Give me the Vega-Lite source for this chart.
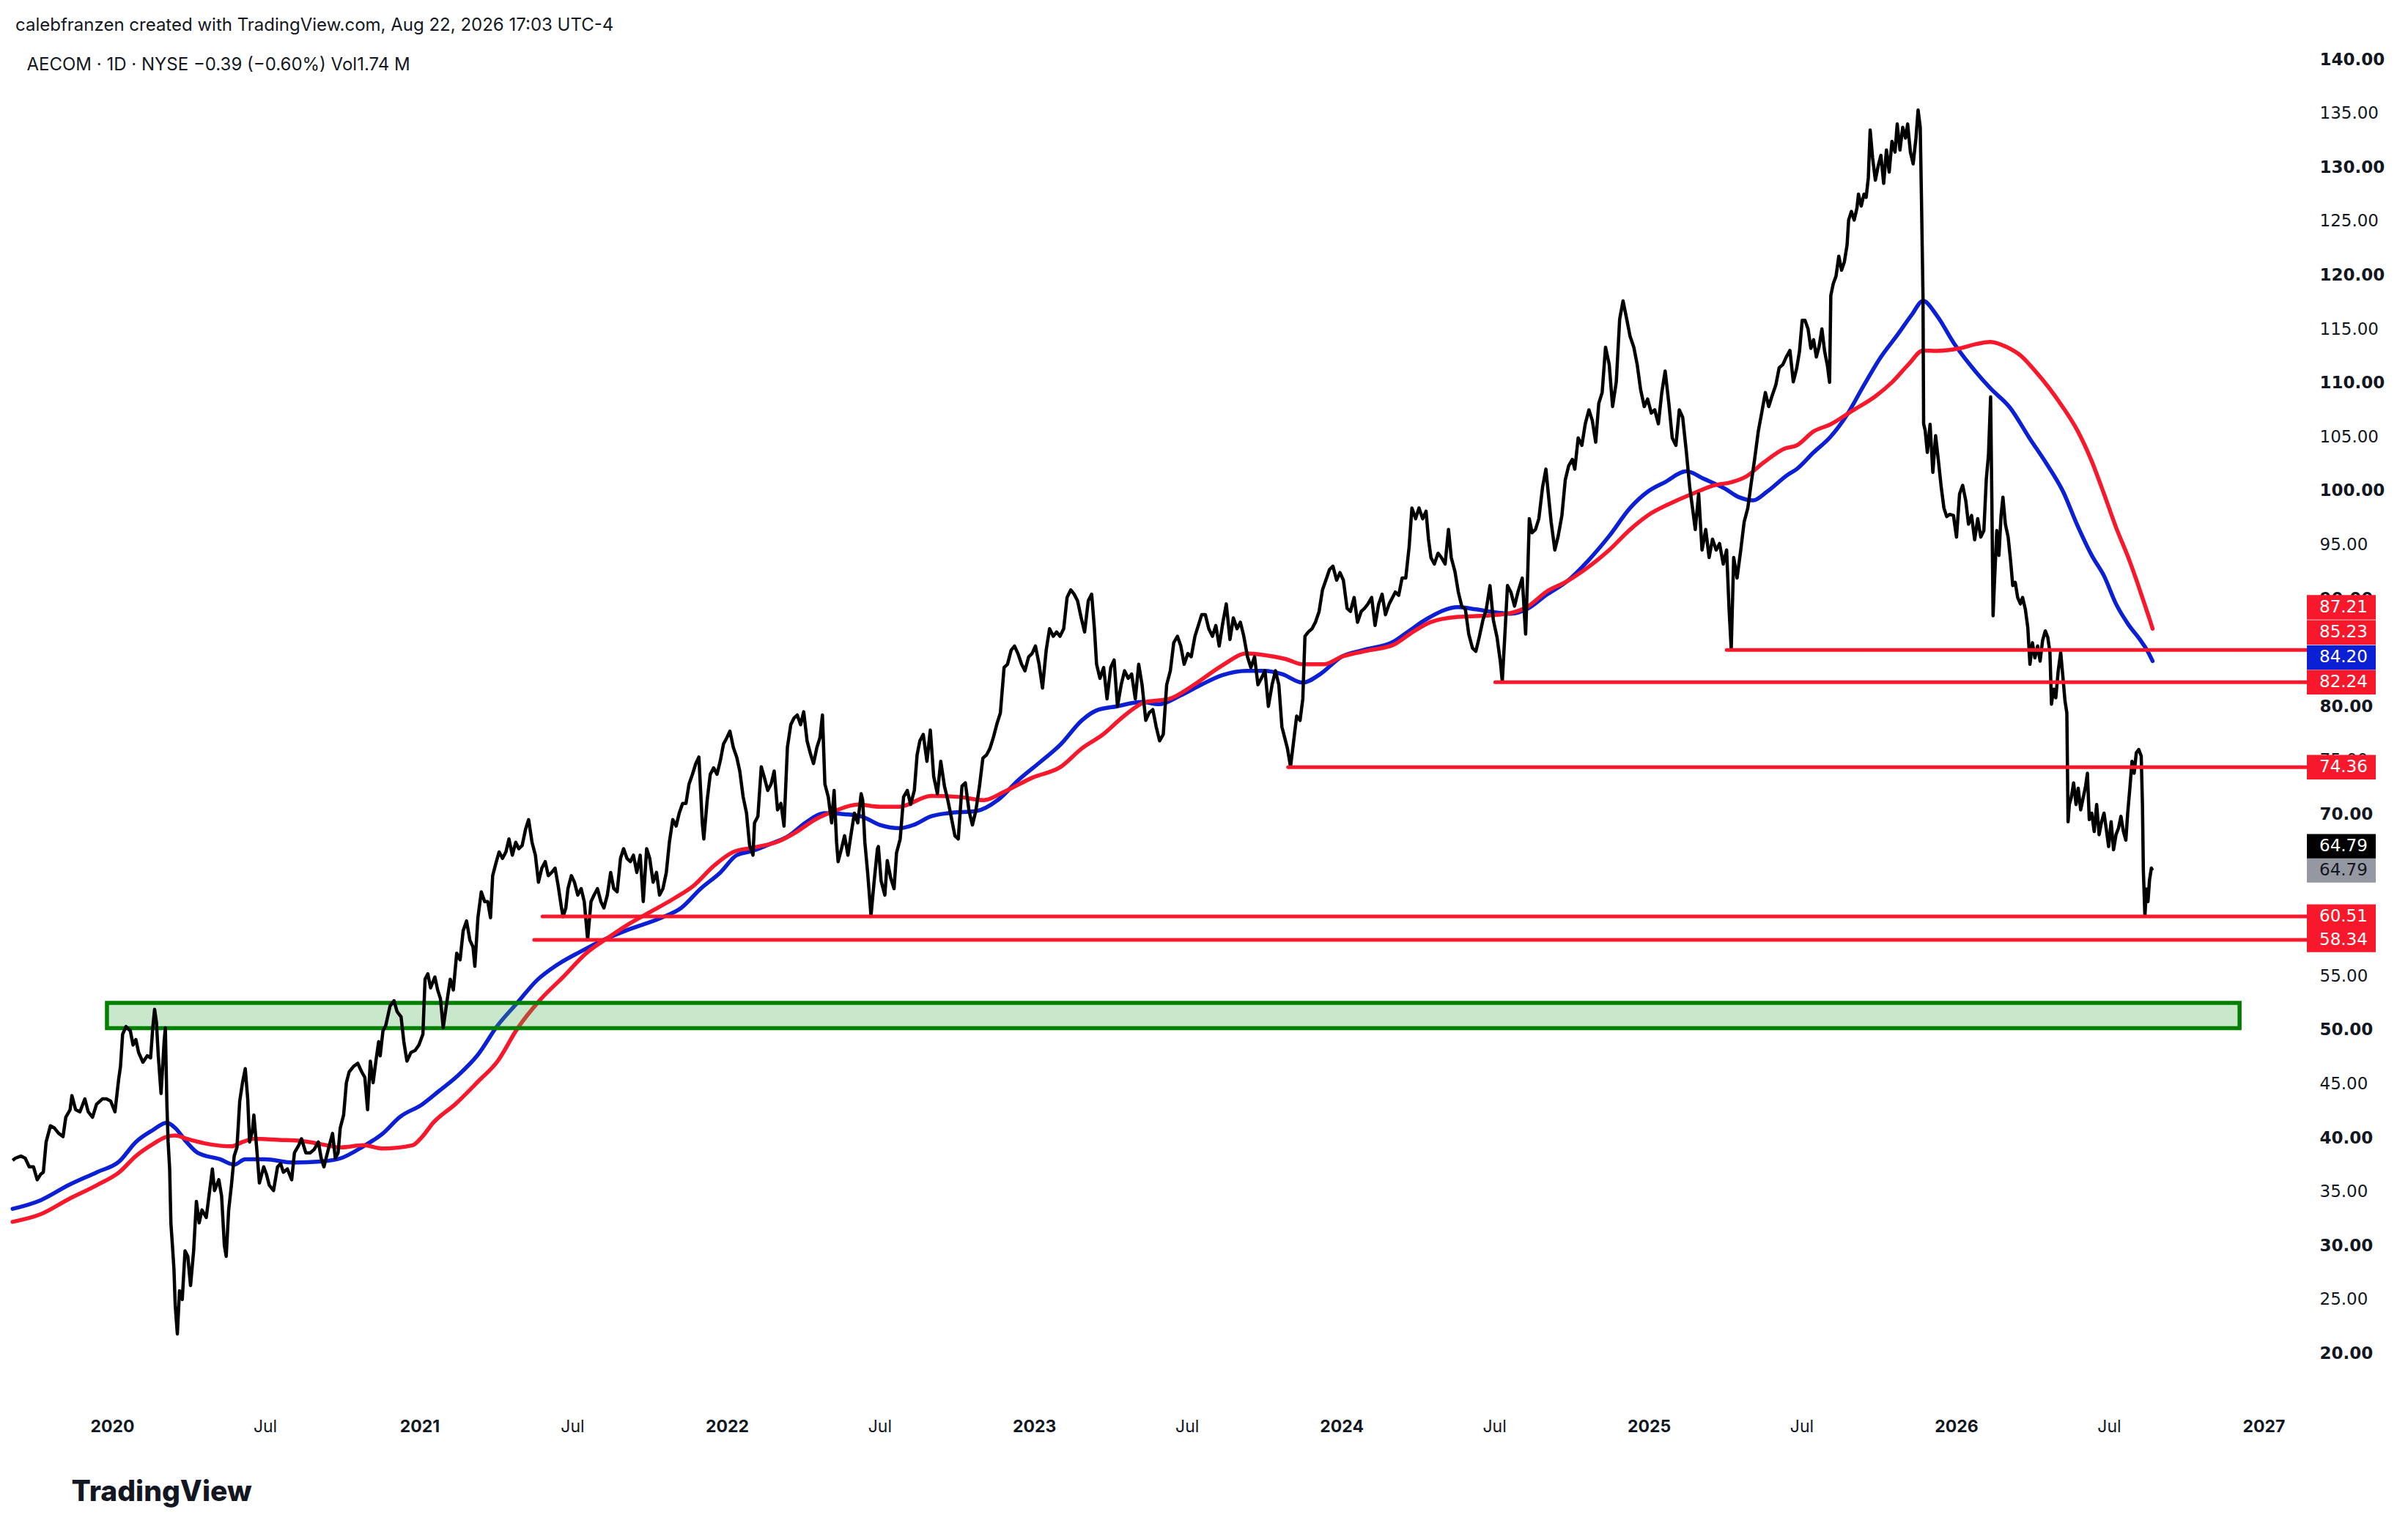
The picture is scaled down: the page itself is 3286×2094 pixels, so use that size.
{
"$schema": "https://vega.github.io/schema/vega-lite/v6.json",
"width": 3131,
"height": 1859,
"autosize": {"type": "none"},
"padding": {"left": 17, "top": 56, "right": 138, "bottom": 179},
"background": "white",
"config": {"view": {"stroke": null}},
"title": {"text": "calebfranzen created with TradingView.com, Aug 22, 2026 17:03 UTC-4", "anchor": "start", "frame": "group", "orient": "top", "offset": -10, "dx": 4, "baseline": "alphabetic", "font": "Inter", "fontSize": 24, "fontWeight": "normal", "color": "#131722"},
"datasets": {
"price": [
{"t":2019.676,"p":37.9},{"t":2019.685,"p":38.1},{"t":2019.703,"p":38.3},{"t":2019.717,"p":38.1},{"t":2019.730,"p":37.3},{"t":2019.744,"p":37.3},{"t":2019.756,"p":36.1},{"t":2019.767,"p":36.6},{"t":2019.776,"p":36.8},{"t":2019.785,"p":39.6},{"t":2019.799,"p":41.1},{"t":2019.812,"p":40.9},{"t":2019.826,"p":40.4},{"t":2019.840,"p":40.1},{"t":2019.849,"p":41.9},{"t":2019.863,"p":42.6},{"t":2019.869,"p":43.9},{"t":2019.881,"p":42.6},{"t":2019.895,"p":42.4},{"t":2019.911,"p":43.6},{"t":2019.922,"p":42.4},{"t":2019.936,"p":41.9},{"t":2019.949,"p":43.1},{"t":2019.968,"p":43.6},{"t":2019.981,"p":43.6},{"t":2019.995,"p":43.4},
{"t":2020.009,"p":42.4},{"t":2020.021,"p":45.4},{"t":2020.027,"p":46.6},{"t":2020.034,"p":49.6},{"t":2020.045,"p":50.3},{"t":2020.059,"p":49.9},{"t":2020.068,"p":48.6},{"t":2020.077,"p":49.1},{"t":2020.086,"p":47.9},{"t":2020.100,"p":47.0},{"t":2020.114,"p":47.6},{"t":2020.125,"p":47.4},{"t":2020.132,"p":50.2},{"t":2020.138,"p":51.9},{"t":2020.144,"p":50.7},{"t":2020.150,"p":47.6},{"t":2020.159,"p":44.1},{"t":2020.169,"p":48.9},{"t":2020.173,"p":50.2},{"t":2020.178,"p":43.1},{"t":2020.182,"p":39.6},{"t":2020.187,"p":37.1},{"t":2020.191,"p":32.1},{"t":2020.196,"p":30.0},{"t":2020.201,"p":27.8},{"t":2020.205,"p":24.5},{"t":2020.212,"p":21.8},{"t":2020.219,"p":25.8},{"t":2020.228,"p":25.0},{"t":2020.237,"p":29.5},{"t":2020.246,"p":29.0},{"t":2020.255,"p":26.3},{"t":2020.265,"p":29.5},{"t":2020.274,"p":34.1},{"t":2020.283,"p":32.1},{"t":2020.292,"p":33.3},{"t":2020.306,"p":32.6},{"t":2020.315,"p":34.6},{"t":2020.326,"p":37.1},{"t":2020.333,"p":35.1},{"t":2020.347,"p":36.1},{"t":2020.356,"p":34.6},{"t":2020.365,"p":30.0},{"t":2020.371,"p":29.0},{"t":2020.379,"p":33.3},{"t":2020.388,"p":35.6},{"t":2020.397,"p":38.3},{"t":2020.406,"p":39.1},{"t":2020.415,"p":43.4},{"t":2020.424,"p":45.1},{"t":2020.433,"p":46.4},{"t":2020.441,"p":43.6},{"t":2020.447,"p":39.6},{"t":2020.456,"p":40.6},{"t":2020.461,"p":42.1},{"t":2020.470,"p":39.1},{"t":2020.479,"p":35.8},{"t":2020.493,"p":37.3},{"t":2020.502,"p":36.6},{"t":2020.511,"p":35.6},{"t":2020.525,"p":35.1},{"t":2020.538,"p":37.3},{"t":2020.548,"p":37.6},{"t":2020.557,"p":36.8},{"t":2020.570,"p":37.1},{"t":2020.584,"p":36.1},{"t":2020.593,"p":38.6},{"t":2020.607,"p":39.3},{"t":2020.616,"p":39.9},{"t":2020.630,"p":38.6},{"t":2020.644,"p":38.6},{"t":2020.657,"p":38.9},{"t":2020.671,"p":39.6},{"t":2020.680,"p":38.1},{"t":2020.689,"p":37.3},{"t":2020.703,"p":38.9},{"t":2020.717,"p":40.4},{"t":2020.726,"p":38.1},{"t":2020.735,"p":38.6},{"t":2020.742,"p":40.9},{"t":2020.753,"p":42.1},{"t":2020.762,"p":45.1},{"t":2020.771,"p":46.1},{"t":2020.785,"p":46.6},{"t":2020.799,"p":46.9},{"t":2020.812,"p":46.1},{"t":2020.822,"p":45.6},{"t":2020.831,"p":42.6},{"t":2020.840,"p":47.1},{"t":2020.849,"p":45.1},{"t":2020.858,"p":47.1},{"t":2020.867,"p":48.9},{"t":2020.872,"p":47.6},{"t":2020.881,"p":49.9},{"t":2020.890,"p":50.4},{"t":2020.904,"p":52.2},{"t":2020.917,"p":52.7},{"t":2020.927,"p":51.7},{"t":2020.940,"p":51.2},{"t":2020.949,"p":48.9},{"t":2020.959,"p":47.1},{"t":2020.972,"p":47.9},{"t":2020.986,"p":48.1},{"t":2020.998,"p":48.6},
{"t":2021.011,"p":49.6},{"t":2021.018,"p":54.7},{"t":2021.027,"p":55.2},{"t":2021.036,"p":53.9},{"t":2021.050,"p":54.9},{"t":2021.059,"p":53.7},{"t":2021.068,"p":52.9},{"t":2021.077,"p":50.2},{"t":2021.087,"p":52.2},{"t":2021.100,"p":54.7},{"t":2021.110,"p":53.7},{"t":2021.121,"p":57.1},{"t":2021.132,"p":56.5},{"t":2021.142,"p":59.2},{"t":2021.153,"p":60.1},{"t":2021.164,"p":58.3},{"t":2021.174,"p":57.7},{"t":2021.180,"p":55.9},{"t":2021.190,"p":60.4},{"t":2021.201,"p":62.8},{"t":2021.212,"p":61.9},{"t":2021.222,"p":61.9},{"t":2021.231,"p":60.4},{"t":2021.238,"p":64.3},{"t":2021.249,"p":65.5},{"t":2021.259,"p":66.5},{"t":2021.270,"p":65.9},{"t":2021.281,"p":66.5},{"t":2021.291,"p":67.7},{"t":2021.302,"p":66.2},{"t":2021.313,"p":67.4},{"t":2021.323,"p":66.8},{"t":2021.334,"p":67.1},{"t":2021.345,"p":68.6},{"t":2021.355,"p":69.5},{"t":2021.366,"p":67.4},{"t":2021.377,"p":66.2},{"t":2021.387,"p":63.7},{"t":2021.398,"p":65.0},{"t":2021.409,"p":65.6},{"t":2021.419,"p":64.3},{"t":2021.430,"p":64.6},{"t":2021.441,"p":65.0},{"t":2021.451,"p":63.4},{"t":2021.462,"p":61.3},{"t":2021.467,"p":60.5},{"t":2021.476,"p":61.3},{"t":2021.483,"p":63.1},{"t":2021.494,"p":64.3},{"t":2021.504,"p":63.7},{"t":2021.515,"p":62.5},{"t":2021.526,"p":63.1},{"t":2021.536,"p":61.9},{"t":2021.547,"p":58.4},{"t":2021.558,"p":61.9},{"t":2021.568,"p":62.5},{"t":2021.579,"p":63.1},{"t":2021.590,"p":61.9},{"t":2021.600,"p":61.3},{"t":2021.611,"p":62.5},{"t":2021.622,"p":64.6},{"t":2021.632,"p":63.1},{"t":2021.643,"p":62.8},{"t":2021.654,"p":65.9},{"t":2021.664,"p":66.8},{"t":2021.675,"p":65.9},{"t":2021.686,"p":65.6},{"t":2021.696,"p":66.2},{"t":2021.707,"p":64.6},{"t":2021.718,"p":66.2},{"t":2021.728,"p":61.9},{"t":2021.739,"p":66.8},{"t":2021.749,"p":65.9},{"t":2021.760,"p":63.7},{"t":2021.771,"p":64.6},{"t":2021.781,"p":62.5},{"t":2021.792,"p":63.1},{"t":2021.803,"p":64.6},{"t":2021.813,"p":67.4},{"t":2021.824,"p":69.5},{"t":2021.835,"p":68.9},{"t":2021.845,"p":70.1},{"t":2021.856,"p":71.0},{"t":2021.867,"p":71.0},{"t":2021.877,"p":72.8},{"t":2021.888,"p":73.7},{"t":2021.899,"p":74.7},{"t":2021.909,"p":75.3},{"t":2021.920,"p":69.2},{"t":2021.925,"p":67.7},{"t":2021.936,"p":71.3},{"t":2021.946,"p":73.7},{"t":2021.957,"p":74.3},{"t":2021.968,"p":73.7},{"t":2021.979,"p":75.0},{"t":2021.989,"p":76.5},
{"t":2022.000,"p":77.1},{"t":2022.010,"p":77.7},{"t":2022.021,"p":76.2},{"t":2022.032,"p":75.3},{"t":2022.042,"p":74.0},{"t":2022.053,"p":71.6},{"t":2022.064,"p":70.1},{"t":2022.074,"p":67.1},{"t":2022.085,"p":66.2},{"t":2022.090,"p":69.2},{"t":2022.101,"p":69.8},{"t":2022.112,"p":74.4},{"t":2022.122,"p":73.4},{"t":2022.133,"p":72.2},{"t":2022.144,"p":72.8},{"t":2022.154,"p":74.0},{"t":2022.165,"p":70.4},{"t":2022.176,"p":71.0},{"t":2022.186,"p":68.9},{"t":2022.197,"p":76.2},{"t":2022.208,"p":78.3},{"t":2022.218,"p":78.9},{"t":2022.229,"p":79.2},{"t":2022.240,"p":78.3},{"t":2022.250,"p":79.5},{"t":2022.261,"p":76.8},{"t":2022.272,"p":75.6},{"t":2022.282,"p":74.7},{"t":2022.293,"p":76.2},{"t":2022.303,"p":77.1},{"t":2022.311,"p":79.2},{"t":2022.319,"p":72.8},{"t":2022.330,"p":71.6},{"t":2022.341,"p":69.2},{"t":2022.349,"p":72.2},{"t":2022.357,"p":67.4},{"t":2022.362,"p":65.6},{"t":2022.373,"p":66.8},{"t":2022.383,"p":68.0},{"t":2022.394,"p":66.2},{"t":2022.405,"p":68.3},{"t":2022.415,"p":70.1},{"t":2022.426,"p":69.2},{"t":2022.437,"p":71.9},{"t":2022.442,"p":71.3},{"t":2022.449,"p":67.4},{"t":2022.458,"p":64.6},{"t":2022.469,"p":60.6},{"t":2022.479,"p":63.7},{"t":2022.490,"p":66.8},{"t":2022.493,"p":67.0},{"t":2022.502,"p":63.8},{"t":2022.514,"p":62.5},{"t":2022.522,"p":65.7},{"t":2022.533,"p":64.1},{"t":2022.544,"p":63.1},{"t":2022.552,"p":66.4},{"t":2022.564,"p":67.7},{"t":2022.575,"p":71.6},{"t":2022.587,"p":72.2},{"t":2022.598,"p":70.9},{"t":2022.610,"p":72.2},{"t":2022.619,"p":75.5},{"t":2022.628,"p":76.8},{"t":2022.639,"p":77.4},{"t":2022.651,"p":74.9},{"t":2022.662,"p":77.8},{"t":2022.673,"p":73.5},{"t":2022.685,"p":71.9},{"t":2022.696,"p":74.9},{"t":2022.708,"p":72.6},{"t":2022.719,"p":71.3},{"t":2022.731,"p":69.6},{"t":2022.742,"p":68.0},{"t":2022.753,"p":67.7},{"t":2022.765,"p":72.6},{"t":2022.776,"p":72.9},{"t":2022.788,"p":70.3},{"t":2022.799,"p":69.0},{"t":2022.810,"p":70.3},{"t":2022.822,"p":72.6},{"t":2022.833,"p":75.2},{"t":2022.845,"p":75.5},{"t":2022.856,"p":76.1},{"t":2022.867,"p":77.1},{"t":2022.879,"p":78.4},{"t":2022.890,"p":79.4},{"t":2022.902,"p":83.6},{"t":2022.913,"p":83.9},{"t":2022.925,"p":85.2},{"t":2022.936,"p":85.6},{"t":2022.947,"p":84.9},{"t":2022.959,"p":83.9},{"t":2022.970,"p":83.3},{"t":2022.982,"p":84.6},{"t":2022.993,"p":84.9},
{"t":2023.004,"p":85.6},{"t":2023.016,"p":83.9},{"t":2023.027,"p":81.7},{"t":2023.039,"p":85.2},{"t":2023.050,"p":87.2},{"t":2023.062,"p":86.5},{"t":2023.073,"p":86.9},{"t":2023.084,"p":86.5},{"t":2023.096,"p":87.2},{"t":2023.107,"p":90.1},{"t":2023.119,"p":90.8},{"t":2023.130,"p":90.4},{"t":2023.141,"p":89.8},{"t":2023.153,"p":88.2},{"t":2023.164,"p":86.9},{"t":2023.176,"p":89.8},{"t":2023.187,"p":90.4},{"t":2023.196,"p":87.2},{"t":2023.203,"p":83.9},{"t":2023.214,"p":82.6},{"t":2023.226,"p":83.6},{"t":2023.237,"p":80.7},{"t":2023.249,"p":83.6},{"t":2023.260,"p":84.3},{"t":2023.271,"p":80.0},{"t":2023.283,"p":82.0},{"t":2023.294,"p":83.3},{"t":2023.306,"p":82.6},{"t":2023.317,"p":83.0},{"t":2023.329,"p":80.7},{"t":2023.340,"p":83.9},{"t":2023.351,"p":82.0},{"t":2023.363,"p":78.7},{"t":2023.374,"p":79.4},{"t":2023.386,"p":79.7},{"t":2023.397,"p":78.1},{"t":2023.408,"p":76.8},{"t":2023.420,"p":77.4},{"t":2023.431,"p":82.0},{"t":2023.443,"p":83.3},{"t":2023.454,"p":85.9},{"t":2023.466,"p":86.5},{"t":2023.477,"p":85.6},{"t":2023.488,"p":83.9},{"t":2023.500,"p":84.9},{"t":2023.511,"p":84.6},{"t":2023.523,"p":86.5},{"t":2023.534,"p":87.5},{"t":2023.545,"p":88.5},{"t":2023.557,"p":88.5},{"t":2023.568,"p":87.2},{"t":2023.580,"p":86.5},{"t":2023.591,"p":87.5},{"t":2023.602,"p":85.6},{"t":2023.614,"p":87.8},{"t":2023.625,"p":89.5},{"t":2023.637,"p":86.2},{"t":2023.648,"p":88.2},{"t":2023.660,"p":87.2},{"t":2023.671,"p":87.8},{"t":2023.682,"p":86.5},{"t":2023.694,"p":84.6},{"t":2023.705,"p":83.6},{"t":2023.717,"p":84.6},{"t":2023.728,"p":82.0},{"t":2023.739,"p":82.6},{"t":2023.751,"p":83.3},{"t":2023.762,"p":80.0},{"t":2023.774,"p":82.0},{"t":2023.785,"p":83.3},{"t":2023.796,"p":82.0},{"t":2023.806,"p":78.1},{"t":2023.815,"p":77.1},{"t":2023.824,"p":76.1},{"t":2023.834,"p":74.4},{"t":2023.843,"p":76.5},{"t":2023.854,"p":79.1},{"t":2023.865,"p":78.7},{"t":2023.874,"p":80.7},{"t":2023.881,"p":86.5},{"t":2023.892,"p":86.9},{"t":2023.904,"p":87.2},{"t":2023.915,"p":87.8},{"t":2023.927,"p":88.8},{"t":2023.938,"p":90.8},{"t":2023.949,"p":91.7},{"t":2023.961,"p":92.7},{"t":2023.972,"p":93.0},{"t":2023.984,"p":91.7},{"t":2023.995,"p":92.4},
{"t":2024.006,"p":91.7},{"t":2024.018,"p":89.1},{"t":2024.029,"p":88.8},{"t":2024.041,"p":90.1},{"t":2024.052,"p":87.8},{"t":2024.064,"p":88.8},{"t":2024.075,"p":89.1},{"t":2024.086,"p":89.5},{"t":2024.098,"p":90.1},{"t":2024.109,"p":87.5},{"t":2024.121,"p":89.5},{"t":2024.132,"p":90.4},{"t":2024.143,"p":88.5},{"t":2024.155,"p":89.5},{"t":2024.175,"p":90.6},{"t":2024.186,"p":90.3},{"t":2024.197,"p":91.9},{"t":2024.209,"p":91.9},{"t":2024.220,"p":94.8},{"t":2024.229,"p":98.4},{"t":2024.241,"p":97.4},{"t":2024.252,"p":98.4},{"t":2024.264,"p":97.4},{"t":2024.275,"p":98.1},{"t":2024.283,"p":95.5},{"t":2024.291,"p":93.8},{"t":2024.302,"p":93.2},{"t":2024.314,"p":94.2},{"t":2024.325,"p":93.8},{"t":2024.337,"p":93.2},{"t":2024.348,"p":96.4},{"t":2024.357,"p":93.8},{"t":2024.369,"p":92.5},{"t":2024.380,"p":90.6},{"t":2024.391,"p":89.3},{"t":2024.403,"p":89.0},{"t":2024.414,"p":86.7},{"t":2024.426,"p":85.4},{"t":2024.437,"p":85.1},{"t":2024.448,"p":86.4},{"t":2024.460,"p":88.0},{"t":2024.471,"p":89.0},{"t":2024.483,"p":91.2},{"t":2024.494,"p":88.0},{"t":2024.506,"p":86.4},{"t":2024.517,"p":84.1},{"t":2024.523,"p":82.3},{"t":2024.531,"p":86.4},{"t":2024.540,"p":91.2},{"t":2024.551,"p":90.6},{"t":2024.563,"p":89.3},{"t":2024.574,"p":90.6},{"t":2024.588,"p":91.9},{"t":2024.599,"p":86.7},{"t":2024.606,"p":92.5},{"t":2024.611,"p":97.4},{"t":2024.620,"p":96.1},{"t":2024.631,"p":96.4},{"t":2024.642,"p":97.4},{"t":2024.654,"p":100.3},{"t":2024.665,"p":102.0},{"t":2024.674,"p":99.4},{"t":2024.682,"p":97.1},{"t":2024.694,"p":94.5},{"t":2024.705,"p":95.8},{"t":2024.717,"p":97.7},{"t":2024.728,"p":101.0},{"t":2024.739,"p":102.3},{"t":2024.751,"p":102.9},{"t":2024.759,"p":102.0},{"t":2024.770,"p":104.9},{"t":2024.782,"p":104.2},{"t":2024.793,"p":106.2},{"t":2024.805,"p":107.5},{"t":2024.816,"p":106.5},{"t":2024.827,"p":104.5},{"t":2024.837,"p":108.1},{"t":2024.848,"p":109.1},{"t":2024.859,"p":113.3},{"t":2024.871,"p":111.7},{"t":2024.882,"p":107.8},{"t":2024.894,"p":110.1},{"t":2024.905,"p":115.9},{"t":2024.916,"p":117.6},{"t":2024.928,"p":115.9},{"t":2024.939,"p":114.3},{"t":2024.951,"p":113.3},{"t":2024.962,"p":111.7},{"t":2024.973,"p":109.4},{"t":2024.985,"p":107.8},{"t":2024.996,"p":108.5},
{"t":2025.008,"p":107.2},{"t":2025.019,"p":107.5},{"t":2025.031,"p":106.2},{"t":2025.042,"p":109.1},{"t":2025.053,"p":111.1},{"t":2025.065,"p":108.1},{"t":2025.076,"p":104.9},{"t":2025.088,"p":104.2},{"t":2025.099,"p":107.5},{"t":2025.110,"p":106.8},{"t":2025.122,"p":103.6},{"t":2025.133,"p":100.3},{"t":2025.142,"p":98.4},{"t":2025.151,"p":96.4},{"t":2025.162,"p":99.7},{"t":2025.173,"p":94.5},{"t":2025.185,"p":96.4},{"t":2025.196,"p":93.8},{"t":2025.207,"p":95.5},{"t":2025.219,"p":94.5},{"t":2025.230,"p":95.1},{"t":2025.242,"p":93.2},{"t":2025.253,"p":94.5},{"t":2025.261,"p":89.0},{"t":2025.268,"p":85.3},{"t":2025.276,"p":93.8},{"t":2025.287,"p":91.9},{"t":2025.299,"p":94.5},{"t":2025.310,"p":97.1},{"t":2025.322,"p":98.4},{"t":2025.333,"p":100.7},{"t":2025.344,"p":102.9},{"t":2025.356,"p":105.5},{"t":2025.367,"p":107.2},{"t":2025.379,"p":109.1},{"t":2025.390,"p":107.8},{"t":2025.401,"p":108.8},{"t":2025.413,"p":109.8},{"t":2025.424,"p":111.4},{"t":2025.436,"p":111.7},{"t":2025.447,"p":112.4},{"t":2025.459,"p":113.0},{"t":2025.470,"p":110.1},{"t":2025.481,"p":111.35},{"t":2025.490,"p":112.9},{"t":2025.499,"p":115.8},{"t":2025.508,"p":115.8},{"t":2025.518,"p":115.0},{"t":2025.527,"p":113.2},{"t":2025.536,"p":114.0},{"t":2025.545,"p":112.4},{"t":2025.554,"p":113.4},{"t":2025.563,"p":115.0},{"t":2025.572,"p":112.9},{"t":2025.581,"p":111.6},{"t":2025.588,"p":110.05},{"t":2025.592,"p":118.1},{"t":2025.600,"p":119.2},{"t":2025.609,"p":119.9},{"t":2025.618,"p":121.75},{"t":2025.627,"p":120.45},{"t":2025.636,"p":121.2},{"t":2025.645,"p":122.8},{"t":2025.650,"p":125.1},{"t":2025.659,"p":125.9},{"t":2025.668,"p":125.1},{"t":2025.677,"p":126.2},{"t":2025.682,"p":127.5},{"t":2025.691,"p":126.4},{"t":2025.700,"p":127.5},{"t":2025.707,"p":127.2},{"t":2025.714,"p":129.0},{"t":2025.720,"p":133.45},{"t":2025.728,"p":130.85},{"t":2025.737,"p":128.8},{"t":2025.746,"p":130.1},{"t":2025.755,"p":131.1},{"t":2025.764,"p":128.5},{"t":2025.773,"p":131.6},{"t":2025.782,"p":129.55},{"t":2025.791,"p":132.4},{"t":2025.801,"p":131.4},{"t":2025.808,"p":134.0},{"t":2025.817,"p":131.6},{"t":2025.826,"p":133.7},{"t":2025.835,"p":132.7},{"t":2025.842,"p":134.0},{"t":2025.851,"p":131.4},{"t":2025.860,"p":130.3},{"t":2025.869,"p":132.7},{"t":2025.876,"p":135.3},{"t":2025.883,"p":133.7},{"t":2025.887,"p":127.0},{"t":2025.892,"p":117.9},{"t":2025.894,"p":106.2},{"t":2025.899,"p":105.6},{"t":2025.906,"p":103.55},{"t":2025.915,"p":106.15},{"t":2025.924,"p":101.7},{"t":2025.933,"p":105.1},{"t":2025.942,"p":102.8},{"t":2025.951,"p":100.4},{"t":2025.960,"p":98.4},{"t":2025.969,"p":97.6},{"t":2025.979,"p":97.8},{"t":2025.991,"p":97.7},
{"t":2026.001,"p":95.7},{"t":2026.011,"p":99.7},{"t":2026.021,"p":100.5},{"t":2026.031,"p":99.1},{"t":2026.040,"p":96.9},{"t":2026.050,"p":97.7},{"t":2026.060,"p":95.45},{"t":2026.070,"p":97.4},{"t":2026.080,"p":95.7},{"t":2026.090,"p":96.3},{"t":2026.098,"p":101.1},{"t":2026.105,"p":103.3},{"t":2026.112,"p":108.7},{"t":2026.116,"p":99.1},{"t":2026.120,"p":88.4},{"t":2026.124,"p":91.2},{"t":2026.132,"p":96.3},{"t":2026.139,"p":94.0},{"t":2026.146,"p":97.7},{"t":2026.152,"p":99.4},{"t":2026.160,"p":96.9},{"t":2026.169,"p":95.7},{"t":2026.177,"p":93.5},{"t":2026.184,"p":91.2},{"t":2026.192,"p":91.5},{"t":2026.200,"p":90.1},{"t":2026.209,"p":89.5},{"t":2026.216,"p":90.1},{"t":2026.225,"p":89.0},{"t":2026.233,"p":87.3},{"t":2026.240,"p":83.9},{"t":2026.248,"p":85.9},{"t":2026.256,"p":84.5},{"t":2026.265,"p":85.6},{"t":2026.273,"p":84.2},{"t":2026.281,"p":86.1},{"t":2026.290,"p":87.0},{"t":2026.298,"p":86.4},{"t":2026.305,"p":85.0},{"t":2026.310,"p":80.2},{"t":2026.317,"p":81.6},{"t":2026.324,"p":80.8},{"t":2026.332,"p":83.3},{"t":2026.340,"p":85.0},{"t":2026.347,"p":82.8},{"t":2026.354,"p":80.5},{"t":2026.360,"p":79.4},{"t":2026.364,"p":69.3},{"t":2026.368,"p":70.9},{"t":2026.374,"p":71.5},{"t":2026.382,"p":72.9},{"t":2026.390,"p":70.9},{"t":2026.397,"p":72.4},{"t":2026.405,"p":70.4},{"t":2026.413,"p":71.5},{"t":2026.421,"p":72.6},{"t":2026.427,"p":73.8},{"t":2026.433,"p":69.5},{"t":2026.441,"p":70.1},{"t":2026.449,"p":68.4},{"t":2026.457,"p":70.9},{"t":2026.465,"p":68.1},{"t":2026.473,"p":69.3},{"t":2026.481,"p":70.1},{"t":2026.488,"p":68.7},{"t":2026.496,"p":67.0},{"t":2026.504,"p":69.3},{"t":2026.512,"p":66.7},{"t":2026.520,"p":68.1},{"t":2026.528,"p":68.7},{"t":2026.536,"p":69.8},{"t":2026.544,"p":68.4},{"t":2026.552,"p":67.6},{"t":2026.558,"p":70.1},{"t":2026.565,"p":72.4},{"t":2026.572,"p":74.9},{"t":2026.579,"p":73.8},{"t":2026.586,"p":75.7},{"t":2026.594,"p":76.0},{"t":2026.602,"p":75.4},{"t":2026.606,"p":70.9},{"t":2026.609,"p":64.75},{"t":2026.614,"p":60.6},{"t":2026.619,"p":63.06},{"t":2026.624,"p":61.9},{"t":2026.629,"p":63.9},{"t":2026.635,"p":65.0},{"t":2026.639,"p":64.79}
],
"ma": [
{"ma":"fast","t":2019.676,"v":33.4},{"ma":"fast","t":2019.767,"v":34.2},{"ma":"fast","t":2019.858,"v":35.6},{"ma":"fast","t":2019.950,"v":36.8},{"ma":"fast","t":2020.023,"v":37.8},{"ma":"fast","t":2020.077,"v":39.6},{"ma":"fast","t":2020.132,"v":40.7},{"ma":"fast","t":2020.178,"v":41.4},{"ma":"fast","t":2020.205,"v":40.9},{"ma":"fast","t":2020.242,"v":39.6},{"ma":"fast","t":2020.278,"v":38.6},{"ma":"fast","t":2020.351,"v":38.0},{"ma":"fast","t":2020.397,"v":37.5},{"ma":"fast","t":2020.433,"v":38.0},{"ma":"fast","t":2020.497,"v":38.0},{"ma":"fast","t":2020.589,"v":37.7},{"ma":"fast","t":2020.680,"v":37.8},{"ma":"fast","t":2020.744,"v":38.1},{"ma":"fast","t":2020.817,"v":39.2},{"ma":"fast","t":2020.881,"v":40.4},{"ma":"fast","t":2020.935,"v":41.9},{"ma":"fast","t":2021.009,"v":43.1},{"ma":"fast","t":2021.062,"v":44.3},{"ma":"fast","t":2021.126,"v":45.8},{"ma":"fast","t":2021.190,"v":47.7},{"ma":"fast","t":2021.254,"v":50.4},{"ma":"fast","t":2021.318,"v":52.5},{"ma":"fast","t":2021.382,"v":54.6},{"ma":"fast","t":2021.446,"v":56.0},{"ma":"fast","t":2021.520,"v":57.2},{"ma":"fast","t":2021.595,"v":58.3},{"ma":"fast","t":2021.680,"v":59.3},{"ma":"fast","t":2021.787,"v":60.4},{"ma":"fast","t":2021.851,"v":61.3},{"ma":"fast","t":2021.915,"v":63.1},{"ma":"fast","t":2021.979,"v":64.6},{"ma":"fast","t":2022.032,"v":66.2},{"ma":"fast","t":2022.085,"v":66.6},{"ma":"fast","t":2022.138,"v":67.2},{"ma":"fast","t":2022.202,"v":68.0},{"ma":"fast","t":2022.255,"v":69.2},{"ma":"fast","t":2022.319,"v":70.1},{"ma":"fast","t":2022.383,"v":70.0},{"ma":"fast","t":2022.437,"v":69.8},{"ma":"fast","t":2022.498,"v":69.0},{"ma":"fast","t":2022.562,"v":68.7},{"ma":"fast","t":2022.607,"v":69.0},{"ma":"fast","t":2022.664,"v":69.8},{"ma":"fast","t":2022.721,"v":70.1},{"ma":"fast","t":2022.813,"v":70.3},{"ma":"fast","t":2022.881,"v":71.3},{"ma":"fast","t":2022.950,"v":73.2},{"ma":"fast","t":2023.018,"v":74.8},{"ma":"fast","t":2023.087,"v":76.5},{"ma":"fast","t":2023.155,"v":78.7},{"ma":"fast","t":2023.201,"v":79.6},{"ma":"fast","t":2023.269,"v":80.0},{"ma":"fast","t":2023.349,"v":80.4},{"ma":"fast","t":2023.406,"v":80.2},{"ma":"fast","t":2023.475,"v":81.0},{"ma":"fast","t":2023.543,"v":82.0},{"ma":"fast","t":2023.612,"v":82.9},{"ma":"fast","t":2023.691,"v":83.3},{"ma":"fast","t":2023.749,"v":83.3},{"ma":"fast","t":2023.806,"v":83.0},{"ma":"fast","t":2023.874,"v":82.2},{"ma":"fast","t":2023.931,"v":83.0},{"ma":"fast","t":2024.000,"v":84.6},{"ma":"fast","t":2024.068,"v":85.2},{"ma":"fast","t":2024.169,"v":86.0},{"ma":"fast","t":2024.220,"v":87.0},{"ma":"fast","t":2024.277,"v":88.1},{"ma":"fast","t":2024.380,"v":89.2},{"ma":"fast","t":2024.437,"v":89.0},{"ma":"fast","t":2024.506,"v":88.7},{"ma":"fast","t":2024.551,"v":88.6},{"ma":"fast","t":2024.608,"v":89.1},{"ma":"fast","t":2024.665,"v":90.3},{"ma":"fast","t":2024.734,"v":91.6},{"ma":"fast","t":2024.802,"v":93.5},{"ma":"fast","t":2024.871,"v":95.8},{"ma":"fast","t":2024.939,"v":98.4},{"ma":"fast","t":2024.996,"v":99.9},{"ma":"fast","t":2025.053,"v":100.8},{"ma":"fast","t":2025.122,"v":101.8},{"ma":"fast","t":2025.179,"v":101.1},{"ma":"fast","t":2025.247,"v":100.2},{"ma":"fast","t":2025.293,"v":99.4},{"ma":"fast","t":2025.339,"v":99.1},{"ma":"fast","t":2025.384,"v":99.9},{"ma":"fast","t":2025.453,"v":101.5},{"ma":"fast","t":2025.481,"v":102.0},{"ma":"fast","t":2025.536,"v":103.55},{"ma":"fast","t":2025.591,"v":105.0},{"ma":"fast","t":2025.645,"v":107.06},{"ma":"fast","t":2025.700,"v":109.8},{"ma":"fast","t":2025.755,"v":112.4},{"ma":"fast","t":2025.810,"v":114.5},{"ma":"fast","t":2025.855,"v":116.3},{"ma":"fast","t":2025.892,"v":117.6},{"ma":"fast","t":2025.938,"v":116.2},{"ma":"fast","t":2025.992,"v":113.7},{"ma":"fast","t":2026.047,"v":111.6},{"ma":"fast","t":2026.111,"v":109.5},{"ma":"fast","t":2026.175,"v":107.7},{"ma":"fast","t":2026.239,"v":104.85},{"ma":"fast","t":2026.294,"v":102.5},{"ma":"fast","t":2026.348,"v":99.9},{"ma":"fast","t":2026.394,"v":96.8},{"ma":"fast","t":2026.441,"v":94.0},{"ma":"fast","t":2026.481,"v":92.1},{"ma":"fast","t":2026.520,"v":89.5},{"ma":"fast","t":2026.560,"v":87.6},{"ma":"fast","t":2026.599,"v":86.15},{"ma":"fast","t":2026.619,"v":85.3},{"ma":"fast","t":2026.639,"v":84.2},
{"ma":"slow","t":2019.676,"v":32.2},{"ma":"slow","t":2019.767,"v":32.9},{"ma":"slow","t":2019.858,"v":34.3},{"ma":"slow","t":2019.950,"v":35.6},{"ma":"slow","t":2020.023,"v":36.8},{"ma":"slow","t":2020.077,"v":38.3},{"ma":"slow","t":2020.132,"v":39.4},{"ma":"slow","t":2020.178,"v":40.1},{"ma":"slow","t":2020.205,"v":40.2},{"ma":"slow","t":2020.242,"v":39.9},{"ma":"slow","t":2020.315,"v":39.4},{"ma":"slow","t":2020.388,"v":39.2},{"ma":"slow","t":2020.424,"v":39.6},{"ma":"slow","t":2020.461,"v":39.9},{"ma":"slow","t":2020.543,"v":39.8},{"ma":"slow","t":2020.616,"v":39.7},{"ma":"slow","t":2020.680,"v":39.4},{"ma":"slow","t":2020.744,"v":39.1},{"ma":"slow","t":2020.817,"v":39.3},{"ma":"slow","t":2020.881,"v":39.0},{"ma":"slow","t":2020.977,"v":39.3},{"ma":"slow","t":2021.009,"v":40.1},{"ma":"slow","t":2021.045,"v":41.4},{"ma":"slow","t":2021.116,"v":43.1},{"ma":"slow","t":2021.190,"v":45.2},{"ma":"slow","t":2021.254,"v":47.1},{"ma":"slow","t":2021.318,"v":50.1},{"ma":"slow","t":2021.393,"v":52.8},{"ma":"slow","t":2021.467,"v":54.9},{"ma":"slow","t":2021.542,"v":57.1},{"ma":"slow","t":2021.616,"v":58.6},{"ma":"slow","t":2021.680,"v":59.8},{"ma":"slow","t":2021.755,"v":61.0},{"ma":"slow","t":2021.829,"v":62.2},{"ma":"slow","t":2021.893,"v":63.4},{"ma":"slow","t":2021.957,"v":65.2},{"ma":"slow","t":2022.021,"v":66.5},{"ma":"slow","t":2022.085,"v":66.9},{"ma":"slow","t":2022.170,"v":67.5},{"ma":"slow","t":2022.224,"v":68.3},{"ma":"slow","t":2022.287,"v":69.5},{"ma":"slow","t":2022.351,"v":70.3},{"ma":"slow","t":2022.426,"v":70.9},{"ma":"slow","t":2022.498,"v":70.7},{"ma":"slow","t":2022.562,"v":70.7},{"ma":"slow","t":2022.664,"v":71.7},{"ma":"slow","t":2022.756,"v":71.6},{"ma":"slow","t":2022.836,"v":71.3},{"ma":"slow","t":2022.904,"v":72.1},{"ma":"slow","t":2022.995,"v":73.4},{"ma":"slow","t":2023.087,"v":74.4},{"ma":"slow","t":2023.155,"v":76.1},{"ma":"slow","t":2023.224,"v":77.4},{"ma":"slow","t":2023.292,"v":79.1},{"ma":"slow","t":2023.361,"v":80.4},{"ma":"slow","t":2023.440,"v":80.7},{"ma":"slow","t":2023.520,"v":82.0},{"ma":"slow","t":2023.612,"v":83.8},{"ma":"slow","t":2023.691,"v":84.9},{"ma":"slow","t":2023.749,"v":84.76},{"ma":"slow","t":2023.817,"v":84.4},{"ma":"slow","t":2023.874,"v":83.9},{"ma":"slow","t":2023.943,"v":83.9},{"ma":"slow","t":2024.000,"v":84.6},{"ma":"slow","t":2024.091,"v":85.2},{"ma":"slow","t":2024.169,"v":85.7},{"ma":"slow","t":2024.232,"v":86.9},{"ma":"slow","t":2024.289,"v":87.8},{"ma":"slow","t":2024.380,"v":88.3},{"ma":"slow","t":2024.460,"v":88.4},{"ma":"slow","t":2024.540,"v":88.6},{"ma":"slow","t":2024.608,"v":89.3},{"ma":"slow","t":2024.665,"v":90.6},{"ma":"slow","t":2024.734,"v":91.6},{"ma":"slow","t":2024.802,"v":92.9},{"ma":"slow","t":2024.871,"v":94.5},{"ma":"slow","t":2024.939,"v":96.4},{"ma":"slow","t":2024.996,"v":97.7},{"ma":"slow","t":2025.076,"v":98.9},{"ma":"slow","t":2025.145,"v":99.75},{"ma":"slow","t":2025.213,"v":100.5},{"ma":"slow","t":2025.270,"v":100.8},{"ma":"slow","t":2025.316,"v":101.3},{"ma":"slow","t":2025.373,"v":102.6},{"ma":"slow","t":2025.441,"v":103.9},{"ma":"slow","t":2025.481,"v":104.2},{"ma":"slow","t":2025.536,"v":105.5},{"ma":"slow","t":2025.591,"v":106.15},{"ma":"slow","t":2025.664,"v":107.45},{"ma":"slow","t":2025.737,"v":108.75},{"ma":"slow","t":2025.791,"v":110.05},{"ma":"slow","t":2025.846,"v":111.75},{"ma":"slow","t":2025.892,"v":113.0},{"ma":"slow","t":2025.938,"v":112.97},{"ma":"slow","t":2026.011,"v":113.2},{"ma":"slow","t":2026.065,"v":113.6},{"ma":"slow","t":2026.111,"v":113.8},{"ma":"slow","t":2026.166,"v":113.3},{"ma":"slow","t":2026.211,"v":112.5},{"ma":"slow","t":2026.257,"v":111.1},{"ma":"slow","t":2026.303,"v":109.5},{"ma":"slow","t":2026.348,"v":107.7},{"ma":"slow","t":2026.394,"v":105.6},{"ma":"slow","t":2026.440,"v":102.8},{"ma":"slow","t":2026.481,"v":99.7},{"ma":"slow","t":2026.520,"v":96.6},{"ma":"slow","t":2026.560,"v":93.8},{"ma":"slow","t":2026.589,"v":91.5},{"ma":"slow","t":2026.609,"v":89.8},{"ma":"slow","t":2026.629,"v":88.1},{"ma":"slow","t":2026.639,"v":87.21}
],
"levels": [
{"price":85.23,"start":2025.253},{"price":82.24,"start":2024.500},{"price":74.36,"start":2023.826},{"price":60.51,"start":2021.400},{"price":58.34,"start":2021.373}
],
"zone": [{"t0":2019.983,"t1":2026.922,"p0":50.15,"p1":52.5}],
"tags": [
{"label":"87.21","price":87.21,"kind":"slow_ma"},{"label":"85.23","price":85.23,"kind":"level"},{"label":"84.20","price":84.20,"kind":"fast_ma"},{"label":"82.24","price":82.24,"kind":"level"},{"label":"74.36","price":74.36,"kind":"level"},{"label":"64.79","price":64.79,"kind":"last"},{"label":"64.79","price":64.79,"kind":"prev_close"},{"label":"60.51","price":60.51,"kind":"level"},{"label":"58.34","price":58.34,"kind":"level"}
]
},
"layer": [
{
"data": {"name": "ma"},
"transform": [{"filter": "datum.ma === 'fast'"}],
"mark": {"type": "line", "color": "#0b1fd4", "strokeWidth": 5.5, "interpolate": "monotone", "strokeCap": "round"},
"encoding": {
"x": {"field": "t", "type": "quantitative", "scale": {"domain": [2019.6755, 2027.141], "nice": false, "zero": false},
"axis": {"title": "TradingView", "values": [2020,2020.497,2021,2021.497,2022,2022.497,2023,2023.497,2024,2024.497,2025,2025.497,2026,2026.497,2027], "labelExpr": "datum.value % 1 === 0 ? format(datum.value, 'd') : 'Jul'", "labelFontWeight": {"condition": {"test": "datum.value % 1 === 0", "value": "bold"}, "value": "normal"}, "ticks": false, "tickSize": 0, "domain": false, "grid": false, "labelFont": "Inter", "labelFontSize": 23, "labelColor": "#131722", "labelPadding": 32, "labelBaseline": "middle", "labelFlush": false, "labelOverlap": false, "titleX": 80, "titleY": 133, "titleAlign": "left", "titleAnchor": "start", "titleBaseline": "alphabetic", "titleFont": "Inter", "titleFontSize": 39, "titleFontWeight": 800, "titleColor": "#131722"}},
"y": {"field": "v", "type": "quantitative", "scale": {"domain": [15.41, 141.70], "nice": false, "zero": false},
"axis": {"orient": "right", "title": "AECOM · 1D · NYSE  −0.39 (−0.60%)  Vol1.74 M", "values": [20,25,30,35,40,45,50,55,70,75,80,90,95,100,105,110,115,120,125,130,135,140], "format": ".2f", "labelFontWeight": {"condition": {"test": "datum.value % 10 === 0", "value": "bold"}, "value": "normal"}, "ticks": false, "tickSize": 0, "domain": false, "grid": false, "labelFont": "DejaVu Sans", "labelFontSize": 23, "labelColor": "#131722", "labelPadding": 17, "labelAlign": "left", "labelBaseline": "middle", "labelOverlap": false, "labelFlush": false, "titleAngle": 0, "titleX": -3112, "titleY": 39, "titleAlign": "left", "titleBaseline": "alphabetic", "titleFont": "Inter", "titleFontSize": 24, "titleFontWeight": "normal", "titleColor": "#131722"}}
}
},
{
"data": {"name": "ma"},
"transform": [{"filter": "datum.ma === 'slow'"}],
"mark": {"type": "line", "color": "#f7182c", "strokeWidth": 5.5, "interpolate": "monotone", "strokeCap": "round"},
"encoding": {
"x": {"field": "t", "type": "quantitative", "title": "TradingView"},
"y": {"field": "v", "type": "quantitative", "title": "AECOM · 1D · NYSE  −0.39 (−0.60%)  Vol1.74 M"}
}
},
{
"data": {"name": "zone"},
"mark": {"type": "rect", "fill": "#4caf50", "fillOpacity": 0.3, "stroke": "#008000", "strokeWidth": 5.5},
"encoding": {
"x": {"field": "t0", "type": "quantitative", "title": "TradingView"},
"x2": {"field": "t1"},
"y": {"field": "p0", "type": "quantitative", "title": "AECOM · 1D · NYSE  −0.39 (−0.60%)  Vol1.74 M"},
"y2": {"field": "p1"}
}
},
{
"data": {"name": "price"},
"mark": {"type": "line", "color": "#000000", "strokeWidth": 4.5, "strokeJoin": "round"},
"encoding": {
"x": {"field": "t", "type": "quantitative", "title": "TradingView"},
"y": {"field": "p", "type": "quantitative", "title": "AECOM · 1D · NYSE  −0.39 (−0.60%)  Vol1.74 M"}
}
},
{
"mark": {"type": "rule", "color": "#9598a1", "strokeWidth": 2, "strokeDash": [3, 5]},
"encoding": {"y": {"datum": 64.79}}
},
{
"data": {"name": "levels"},
"mark": {"type": "rule", "color": "#f7182c", "strokeWidth": 5, "strokeCap": "round"},
"encoding": {
"x": {"field": "start", "type": "quantitative", "title": "TradingView"},
"x2": {"datum": 2027.141},
"y": {"field": "price", "type": "quantitative", "title": "AECOM · 1D · NYSE  −0.39 (−0.60%)  Vol1.74 M"}
}
},
{
"data": {"name": "tags"},
"transform": [{"filter": "(datum.kind === 'level' && datum.price !== 85.23) || datum.kind === 'prev_close'"}],
"layer": [
{"mark": {"type": "point", "shape": "M-1,-0.356L1,-0.356L1,0.356L-1,0.356Z", "size": 8836, "filled": true, "opacity": 1, "strokeWidth": 0, "xOffset": 47, "clip": false},
"encoding": {"x": {"datum": 2027.141}, "y": {"field": "price", "type": "quantitative"}, "color": {"condition": {"test": "datum.kind === 'prev_close'", "value": "#9598a1"}, "value": "#f7182c"}}},
{"mark": {"type": "text", "align": "left", "baseline": "middle", "dx": 17, "font": "DejaVu Sans", "fontSize": 23, "clip": false},
"encoding": {"x": {"datum": 2027.141}, "y": {"field": "price", "type": "quantitative"}, "text": {"field": "label"}, "color": {"condition": {"test": "datum.kind === 'prev_close'", "value": "#131722"}, "value": "#ffffff"}}}
]
},
{
"data": {"name": "tags"},
"transform": [{"filter": "datum.kind === 'slow_ma'"}],
"layer": [
{"mark": {"type": "point", "shape": "M-1,-0.356L1,-0.356L1,0.356L-1,0.356Z", "size": 8836, "filled": true, "opacity": 1, "strokeWidth": 0, "xOffset": 47, "yOffset": -29, "color": "#f7182c", "clip": false},
"encoding": {"x": {"datum": 2027.141}, "y": {"field": "price", "type": "quantitative"}}},
{"mark": {"type": "text", "align": "left", "baseline": "middle", "dx": 17, "dy": -29, "font": "DejaVu Sans", "fontSize": 23, "color": "#ffffff", "clip": false},
"encoding": {"x": {"datum": 2027.141}, "y": {"field": "price", "type": "quantitative"}, "text": {"field": "label"}}}
]
},
{
"data": {"name": "tags"},
"transform": [{"filter": "datum.kind === 'level' && datum.price === 85.23"}],
"layer": [
{"mark": {"type": "point", "shape": "M-1,-0.356L1,-0.356L1,0.356L-1,0.356Z", "size": 8836, "filled": true, "opacity": 1, "strokeWidth": 0, "xOffset": 47, "yOffset": -24, "color": "#f7182c", "clip": false},
"encoding": {"x": {"datum": 2027.141}, "y": {"field": "price", "type": "quantitative"}}},
{"mark": {"type": "text", "align": "left", "baseline": "middle", "dx": 17, "dy": -24, "font": "DejaVu Sans", "fontSize": 23, "color": "#ffffff", "clip": false},
"encoding": {"x": {"datum": 2027.141}, "y": {"field": "price", "type": "quantitative"}, "text": {"field": "label"}}}
]
},
{
"data": {"name": "tags"},
"transform": [{"filter": "datum.kind === 'fast_ma'"}],
"layer": [
{"mark": {"type": "point", "shape": "M-1,-0.356L1,-0.356L1,0.356L-1,0.356Z", "size": 8836, "filled": true, "opacity": 1, "strokeWidth": 0, "xOffset": 47, "yOffset": -5, "color": "#0b1fd4", "clip": false},
"encoding": {"x": {"datum": 2027.141}, "y": {"field": "price", "type": "quantitative"}}},
{"mark": {"type": "text", "align": "left", "baseline": "middle", "dx": 17, "dy": -5, "font": "DejaVu Sans", "fontSize": 23, "color": "#ffffff", "clip": false},
"encoding": {"x": {"datum": 2027.141}, "y": {"field": "price", "type": "quantitative"}, "text": {"field": "label"}}}
]
},
{
"data": {"name": "tags"},
"transform": [{"filter": "datum.kind === 'last'"}],
"layer": [
{"mark": {"type": "point", "shape": "M-1,-0.356L1,-0.356L1,0.356L-1,0.356Z", "size": 8836, "filled": true, "opacity": 1, "strokeWidth": 0, "xOffset": 47, "yOffset": -33, "color": "#000000", "clip": false},
"encoding": {"x": {"datum": 2027.141}, "y": {"field": "price", "type": "quantitative"}}},
{"mark": {"type": "text", "align": "left", "baseline": "middle", "dx": 17, "dy": -33, "font": "DejaVu Sans", "fontSize": 23, "color": "#ffffff", "clip": false},
"encoding": {"x": {"datum": 2027.141}, "y": {"field": "price", "type": "quantitative"}, "text": {"field": "label"}}}
]
}
]
}
